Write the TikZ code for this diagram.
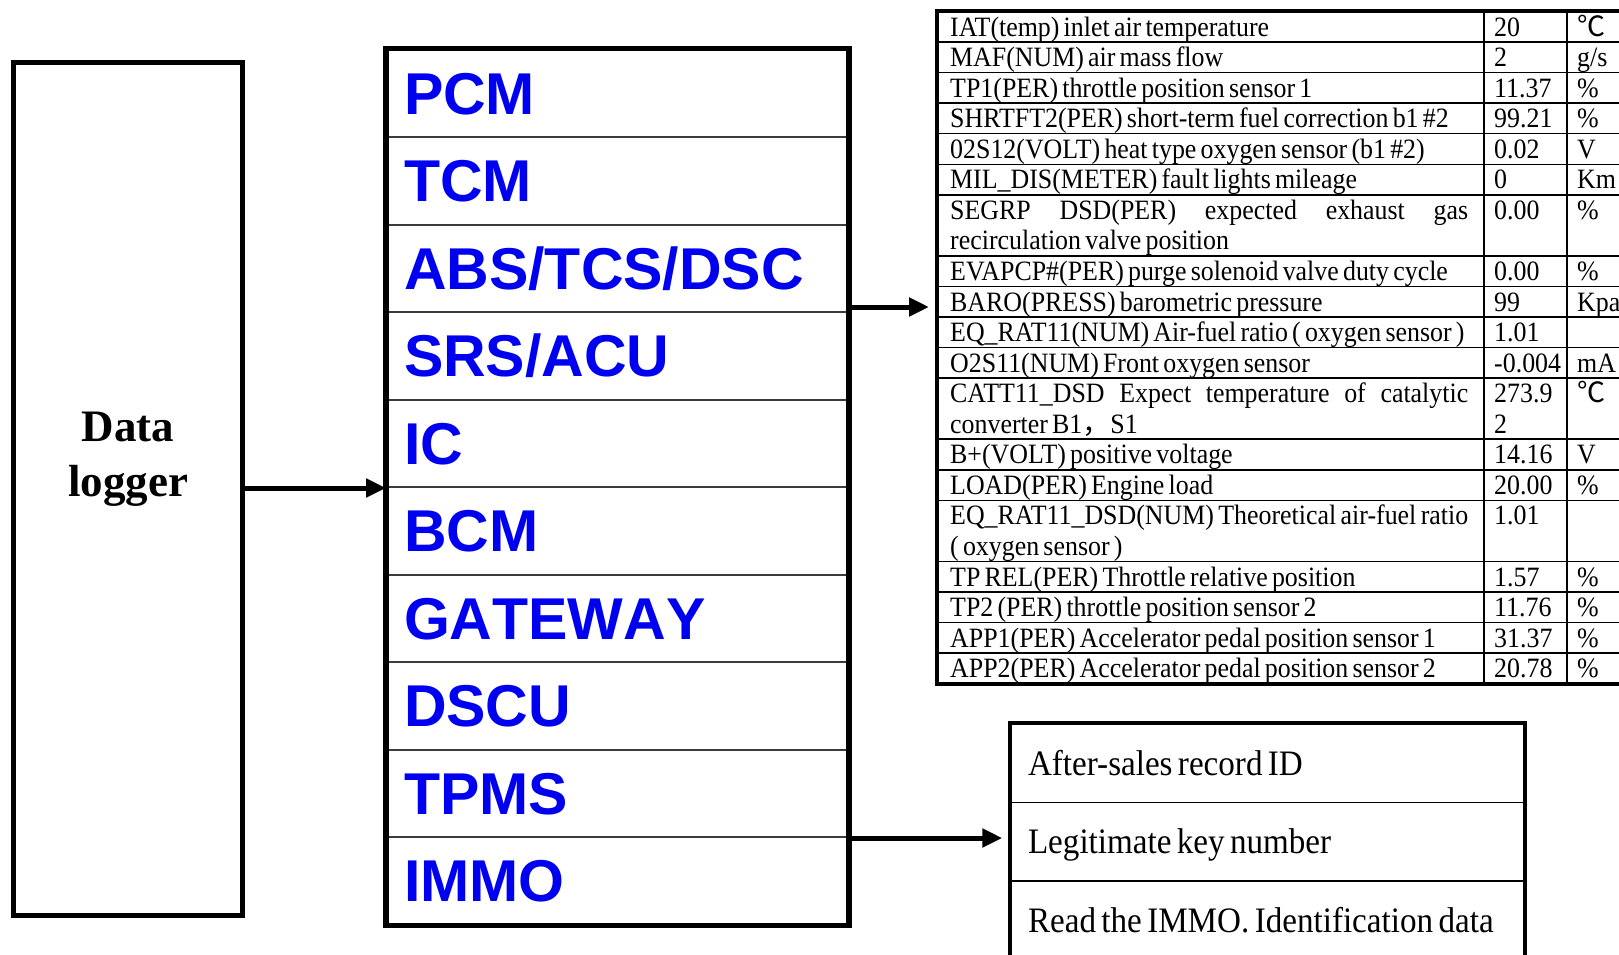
\documentclass[tikz,border=0pt]{standalone}
\usepackage{fontspec}
\setmainfont{Liberation Serif}
\newfontfamily\modfont[Kerning=Off]{Liberation Sans}
\newfontfamily\tabfont[FakeStretch=0.925,WordSpace=0.65]{Liberation Serif}
\newfontfamily\cjk{Noto Sans CJK SC}
\usepackage{tikz}
\usetikzlibrary{arrows.meta,positioning}
\definecolor{modblue}{RGB}{0,0,240}
\definecolor{gridgray}{RGB}{60,60,60}
\newcommand{\twoline}[2]{\vtop{\hbox{#1}\hbox{#2}}}
\newcommand{\just}[1]{\makebox[518pt][s]{#1}}
\tikzset{
  thickbox/.style={draw, line width=5pt},
  module/.style={draw=gridgray, line width=2pt, minimum width=461pt, minimum height=87.5pt,
    inner xsep=17pt, text width=427pt, align=left, text height=42pt, text depth=0pt,
    font=\modfont\bfseries\fontsize{59}{60}\selectfont, text=modblue},
  cellt/.style={anchor=base west, inner sep=0pt, font=\tabfont\fontsize{28}{30.55}\selectfont},
  keyrow/.style={draw, line width=1.5pt, minimum width=513pt, minimum height=78.5pt,
    inner xsep=17pt, text height=24pt, text depth=0pt,
    font=\tabfont\fontsize{35.8}{40}\selectfont},
  arrow/.style={line width=5pt, -{Triangle[length=20pt,width=18pt]}}
}
\begin{document}
\begin{tikzpicture}[x=1pt,y=-1pt]
\useasboundingbox (0,0) rectangle (1619,955);
\clip (0,0) rectangle (1619,955);
\fill[white] (0,0) rectangle (1619,955);

% data logger
\node[thickbox, minimum width=229pt, minimum height=852pt,
  label={[align=center, yshift=30pt, font=\bfseries\fontsize{45}{55}\selectfont]center:Data\\logger}] (dlog) at (128,489) {};

% modules
\foreach \m [count=\i] in {PCM,TCM,ABS/TCS/DSC,SRS/ACU,IC,BCM,GATEWAY,DSCU,TPMS,IMMO}
  \node[module] (m\i) at (617.5,{49.5+87.5*(\i-0.5)}) {\m};
\draw[line width=5.5pt] (m1.north west) rectangle (m10.south east);

\draw[arrow] (dlog.east |- m5.south west) -- (m5.south west);

% data stream table
\node[draw, line width=4pt, minimum width=700pt, minimum height=672.1pt, anchor=north west,
  inner sep=0pt, outer sep=0pt] (tab) at (937,11.5) {};
\foreach \u in {1,...,6,8,9,10,11,12,14,15,16,18,19,20,21}
  \draw[line width=1.5pt] (937,{11.5+30.55*\u}) -- (1619,{11.5+30.55*\u});
\foreach \x in {1484,1567}
  \draw[line width=1.5pt] (\x,11.5) -- (\x,683.6);
\foreach \u/\txt/\val/\un in {
  0/{IAT(temp) inlet air temperature}/{20}/{\cjk ℃},
  1/{MAF(NUM) air mass flow}/{2}/{g/s},
  2/{TP1(PER) throttle position sensor 1}/{11.37}/{\%},
  3/{SHRTFT2(PER) short-term fuel correction b1 \#2}/{99.21}/{\%},
  4/{02S12(VOLT) heat type oxygen sensor (b1 \#2)}/{0.02}/{V},
  5/{MIL\_DIS(METER) fault lights mileage}/{0}/{Km},
  6/{\twoline{\just{SEGRP DSD(PER) expected exhaust gas}}{recirculation valve position}}/{0.00}/{\%},
  8/{EVAPCP\#(PER) purge solenoid valve duty cycle}/{0.00}/{\%},
  9/{BARO(PRESS) barometric pressure}/{99}/{Kpa},
  10/{EQ\_RAT11(NUM) Air-fuel ratio ( oxygen sensor )}/{1.01}/{},
  11/{O2S11(NUM) Front oxygen sensor}/{-0.004}/{mA},
  12/{\twoline{\just{CATT11\_DSD Expect temperature of catalytic}}{converter B1{\cjk ，}S1}}/{\twoline{273.9}{2}}/{\cjk ℃},
  14/{B+(VOLT) positive voltage}/{14.16}/{V},
  15/{LOAD(PER) Engine load}/{20.00}/{\%},
  16/{\twoline{\just{EQ\_RAT11\_DSD(NUM) Theoretical air-fuel ratio}}{( oxygen sensor )}}/{1.01}/{},
  18/{TP REL(PER) Throttle relative position}/{1.57}/{\%},
  19/{TP2 (PER) throttle position sensor 2}/{11.76}/{\%},
  20/{APP1(PER) Accelerator pedal position sensor 1}/{31.37}/{\%},
  21/{APP2(PER) Accelerator pedal position sensor 2}/{20.78}/{\%}}
{
  \node[cellt] (par\u) at (950,{11.5+30.55*\u+24.6}) {\txt};
  \node[cellt] (val\u) at (1494,{11.5+30.55*\u+24.6}) {\val};
  \node[cellt] (unit\u) at (1577,{11.5+30.55*\u+24.6}) {\un};
}
\coordinate (tabin) at ([yshift=6pt]m3.south east);
\draw[arrow, shorten >=8pt] (tabin) -- (tabin -| tab.west);

% immobiliser data
\foreach \t [count=\i] in {After-sales record ID,Legitimate key number,Read the IMMO. Identification data}
  \node[keyrow] (k\i) at (1267.5,{724+78.5*(\i-0.5)}) {\makebox[479pt][l]{\t}};
\draw[line width=4pt] (k1.north west) rectangle (k3.south east);

\draw[arrow, shorten >=8pt] (m9.south east) -- (m9.south east -| k2.west);
\end{tikzpicture}
\end{document}
